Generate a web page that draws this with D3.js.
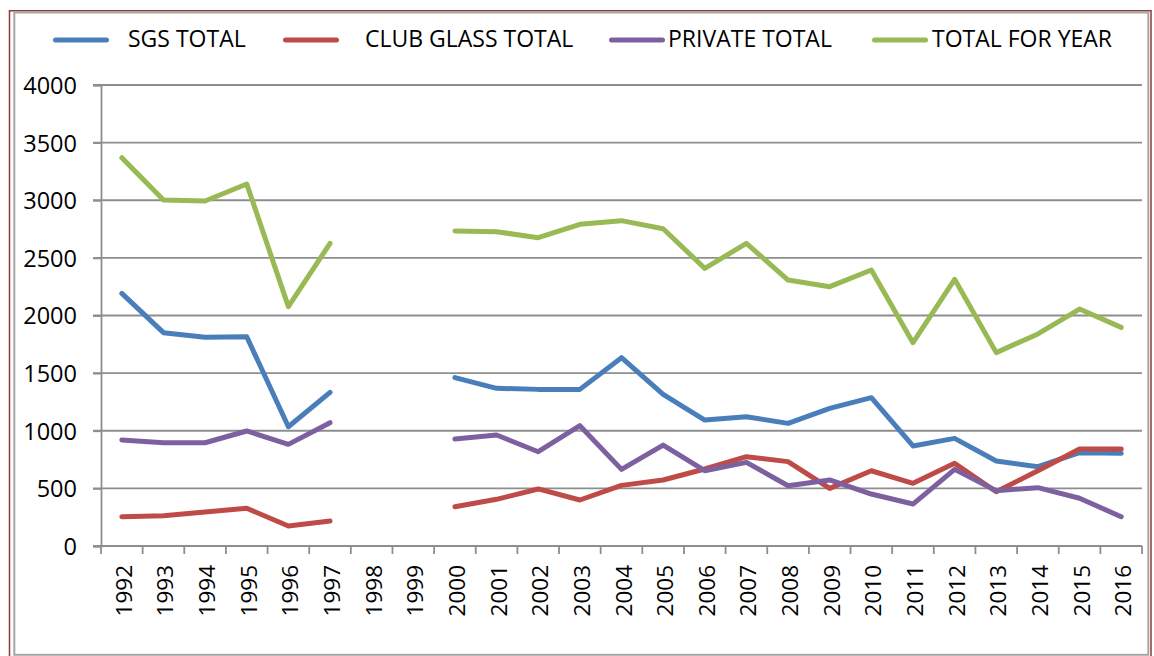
<!DOCTYPE html>
<html>
<head>
<meta charset="utf-8">
<script src="https://cdn.jsdelivr.net/npm/d3@7"></script>
<style>
	html, body { margin: 0; padding: 0; background: #fff; }
	svg { display: block; }
	text { font-family: "Open Sans", sans-serif; fill: #000; }
</style>
</head>
<body>
<div id="chart"></div>
<script>
// values, 1998 and 1999 have no data
const years = ["1992", "1993", "1994", "1995", "1996", "1997", "1998", "1999", "2000", "2001", "2002", "2003", "2004",
	"2005", "2006", "2007", "2008", "2009", "2010", "2011", "2012", "2013", "2014", "2015", "2016"];
const sgsTotal = [2192, 1851, 1811, 1816, 1035, 1333, null, null, 1461, 1368, 1359, 1359, 1634,
	1316, 1093, 1122, 1064, 1194, 1287, 868, 934, 737, 688, 810, 804];
const clubGlassTotal = [254, 263, 295, 327, 174, 217, null, null, 341, 405, 495, 399, 526,
	573, 668, 775, 732, 500, 653, 544, 717, 471, 653, 842, 842];
const privateTotal = [920, 896, 896, 998, 882, 1070, null, null, 928, 963, 818, 1044, 665,
	876, 653, 726, 523, 573, 451, 364, 665, 480, 506, 414, 254];
const totalForYear = [3369, 3002, 2993, 3141, 2077, 2626, null, null, 2733, 2727, 2675, 2791, 2823,
	2753, 2409, 2626, 2308, 2250, 2395, 1764, 2314, 1678, 1840, 2056, 1897];
const yTicks = [0, 500, 1000, 1500, 2000, 2500, 3000, 3500, 4000];

const series = [
	{ name: "SGS TOTAL", values: sgsTotal, color: "#4a7ebb", legendX: 53, textX: 128 },
	{ name: "CLUB GLASS TOTAL", values: clubGlassTotal, color: "#be4b48", legendX: 283, textX: 365 },
	{ name: "PRIVATE TOTAL", values: privateTotal, color: "#7d60a0", legendX: 609, textX: 668 },
	{ name: "TOTAL FOR YEAR", values: totalForYear, color: "#98b954", legendX: 872, textX: 932 }
];

const width = 1154, height = 656;
const plot = { left: 101, right: 1142, top: 85, bottom: 546 };

const svg = d3.select("#chart").append("svg")
	.attr("width", width)
	.attr("height", height);

// chart frame: dark red outer line, grey inner line
svg.append("path")
	.attr("d", "M9.5,656 V10.7 H1151 V656")
	.attr("fill", "none")
	.attr("stroke", "#8c3b3b")
	.attr("stroke-width", 1.5);
svg.append("rect")
	.attr("x", 14.3).attr("y", 12.5)
	.attr("width", 1148.3 - 14.3).attr("height", 654.8 - 12.5)
	.attr("fill", "none")
	.attr("stroke", "#a6a6a6")
	.attr("stroke-width", 2);

const x = d3.scaleBand()
	.domain(years)
	.range([plot.left, plot.right])
	.padding(0);
const cx = d => x(d) + x.bandwidth() / 2;

const y = d3.scaleLinear()
	.domain([0, 4000])
	.range([plot.bottom, plot.top]);

// horizontal gridlines
svg.append("g").selectAll("line")
	.data(yTicks)
	.enter().append("line")
		.attr("x1", plot.left - 8)
		.attr("x2", plot.right)
		.attr("y1", d => y(d))
		.attr("y2", d => y(d))
		.attr("stroke", "#8e8e8e")
		.attr("stroke-width", 1.8);

// y axis
const yAxis = svg.append("g")
	.attr("transform", `translate(${plot.left},0)`)
	.call(d3.axisLeft(y).tickValues(yTicks).tickFormat(d3.format("d")).tickSize(8).tickPadding(16));
yAxis.select(".domain").attr("stroke", "#8e8e8e").attr("stroke-width", 1.8);
yAxis.selectAll(".tick line").attr("stroke", "#8e8e8e").attr("stroke-width", 1.8);
yAxis.selectAll(".tick text")
	.attr("font-family", "'Open Sans', sans-serif")
	.attr("font-size", 23.5)
	.attr("fill", "#000")
	.attr("dy", "0.36em");

// x axis: ticks on the band edges
svg.append("line")
	.attr("x1", plot.left).attr("x2", plot.right)
	.attr("y1", plot.bottom).attr("y2", plot.bottom)
	.attr("stroke", "#8e8e8e").attr("stroke-width", 1.8);
const edges = years.map(d => x(d)).concat([plot.right]);
svg.append("g").selectAll("line")
	.data(edges)
	.enter().append("line")
		.attr("x1", d => d).attr("x2", d => d)
		.attr("y1", plot.bottom).attr("y2", plot.bottom + 8)
		.attr("stroke", "#8e8e8e")
		.attr("stroke-width", 1.8);

svg.append("g").selectAll("text")
	.data(years)
	.enter().append("text")
		.attr("transform", d => `translate(${cx(d) + 10},565) rotate(-90)`)
		.attr("text-anchor", "end")
		.attr("font-size", 22.5)
		.text(d => d);

// series lines, in Excel drawing order
const line = d3.line()
	.defined(d => d.v != null)
	.x(d => cx(d.year))
	.y(d => y(d.v));

svg.append("g").selectAll("path")
	.data(series)
	.enter().append("path")
		.attr("d", s => line(s.values.map((v, i) => ({ year: years[i], v: v }))))
		.attr("fill", "none")
		.attr("stroke", s => s.color)
		.attr("stroke-width", 5)
		.attr("stroke-linejoin", "round")
		.attr("stroke-linecap", "round");

// legend
const legend = svg.append("g").selectAll("g")
	.data(series)
	.enter().append("g");
legend.append("line")
	.attr("x1", s => s.legendX + 2.5)
	.attr("x2", s => s.legendX + 53.5)
	.attr("y1", 40).attr("y2", 40)
	.attr("stroke", s => s.color)
	.attr("stroke-width", 5)
	.attr("stroke-linecap", "round");
legend.append("text")
	.attr("x", s => s.textX)
	.attr("y", 47)
	.attr("font-size", 23)
	.text(s => s.name);
</script>
</body>
</html>
